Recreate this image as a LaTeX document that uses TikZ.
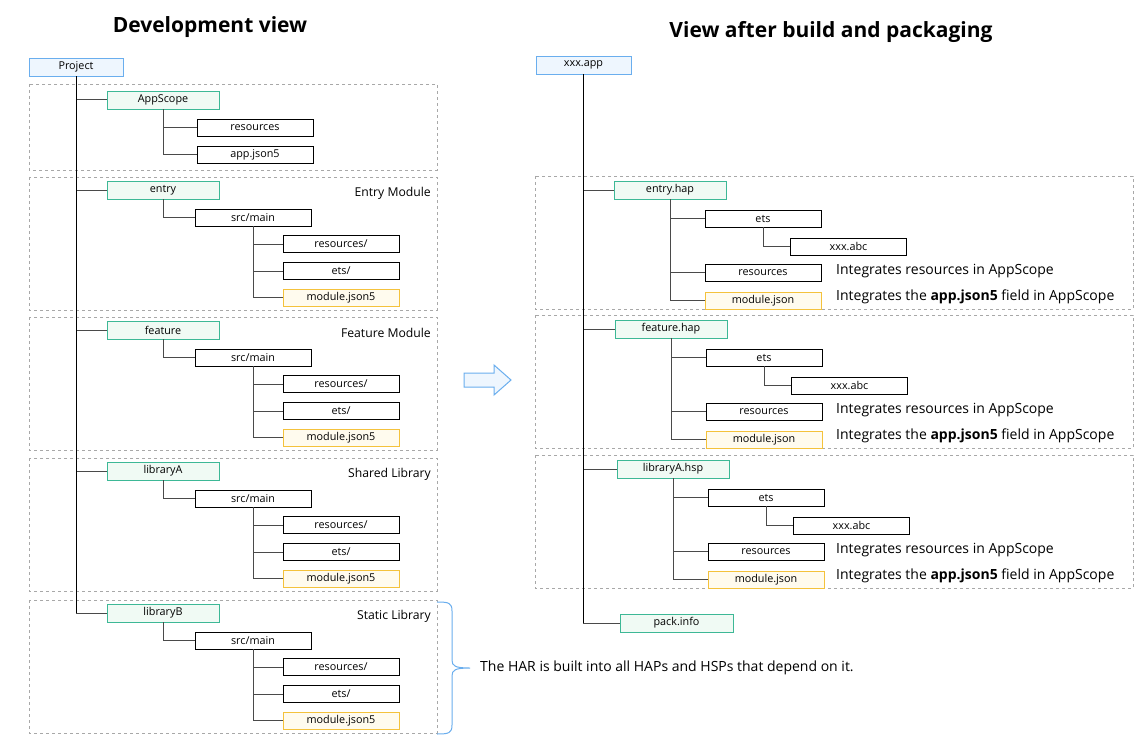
\documentclass[tikz,border=0pt]{standalone}
\usepackage{fontspec}
\setmainfont{Open Sans}
\definecolor{grnB}{HTML}{3DB896}
\definecolor{grnF}{HTML}{F0FAF4}
\definecolor{bluB}{HTML}{6AAEEE}
\definecolor{bluF}{HTML}{EEF6FE}
\definecolor{ylwB}{HTML}{F4C23C}
\definecolor{ylwF}{HTML}{FFFBEE}
\definecolor{grpC}{HTML}{A8A8A8}
\definecolor{lnC}{HTML}{4A4A4A}
\tikzset{
  bx/.style={draw, line width=0.9pt, inner sep=0pt, minimum height=17, font=\fontsize{10.8}{12}\selectfont},
  wht/.style={bx, draw=black, fill=white, minimum width=116},
  grn/.style={bx, draw=grnB, fill=grnF, minimum width=112, minimum height=18},
  ylw/.style={bx, draw=ylwB, fill=ylwF, minimum width=116},
  blu/.style={bx, draw=bluB, fill=bluF, minimum height=18},
  grp/.style={draw=grpC, dashed, line width=0.7pt},
  br/.style={draw=lnC, line width=1pt},
  mainln/.style={draw=black, line width=1pt},
  note/.style={anchor=west, inner sep=0pt, font=\fontsize{14}{16}\selectfont},
  lbl/.style={anchor=east, inner sep=0pt, font=\fontsize{12.2}{14}\selectfont},
  ttl/.style={font=\fontsize{21}{24}\selectfont\bfseries, inner sep=0pt}
}
\begin{document}
\begin{tikzpicture}[x=1pt,y=-1pt]
\useasboundingbox (0,0) rectangle (1142,746);
\fill[white] (0,0) rectangle (1142,746);

% titles
\node[ttl] (t1) at (210,27) {Development view};
\node[ttl] (t2) at (831,32) {View after build and packaging};

% ---------- left ----------
\draw[grp] (29,84) rectangle (437,170);
\node[blu, minimum width=94] (proj) at (76,67) {Project};
\node[grn] (aps) at (163,100) {AppScope};
\node[wht] (apsres) at (255,128) {resources};
\node[wht] (apsjs) at (255,155) {app.json5};
\draw[br] (aps.south) |- (apsres.west);
\draw[br] (aps.south) |- (apsjs.west);
\draw[br] (proj.south) |- (aps.west);

\foreach \nm/\lab/\dy in {entry/Entry Module/0, feature/Feature Module/140, libraryA/Shared Library/281, libraryB/Static Library/423}{
  \draw[grp] (29,177+\dy) rectangle (437,310+\dy);
  \node[lbl] (L\nm) at (431,193+\dy) {\lab};
  \node[grn] (M\nm) at (163,190+\dy) {\nm};
  \node[wht] (S\nm) at (253,217.5+\dy) {src/main};
  \node[wht] (R\nm) at (341,244+\dy) {resources/};
  \node[wht] (E\nm) at (341,271+\dy) {ets/};
  \node[ylw] (J\nm) at (341,297.5+\dy) {module.json5};
  \draw[br] (M\nm.south) |- (S\nm.west);
  \draw[br] (S\nm.south) |- (R\nm.west);
  \draw[br] (S\nm.south) |- (E\nm.west);
  \draw[br] (S\nm.south) |- (J\nm.west);
  \draw[br] (proj.south) |- (M\nm.west);
}
\draw[mainln] (proj.south) -- (proj.south |- MlibraryB.west);

% brace and note
\node[note] (har) at (480,668) {The HAR is built into all HAPs and HSPs that depend on it.};
\coordinate (bt) at (437,602);
\coordinate (bb) at (437,734);
\coordinate (btip) at (470,668);
\draw[draw=bluB, line width=1pt]
  (bt) .. controls (449,602) and (452,603) .. (452,611) -- (452,660)
  .. controls (452,666) and (455,668) .. (btip)
  .. controls (455,668) and (452,670) .. (452,676) -- (452,725)
  .. controls (452,733) and (449,734) .. (bb);

% arrow
\draw[draw=bluB, fill=bluF, line width=1pt, line join=miter]
  (464,373) -- (494,373) -- (494,365) -- (511,380) -- (494,395) -- (494,387) -- (464,387) -- cycle;

% ---------- right ----------
\node[blu, minimum width=95] (app) at (583.5,65) {xxx.app};
\node[grn, minimum width=113] (pack) at (676.5,623) {pack.info};

\foreach \id/\nm/\dx/\dy in {ent/entry.hap/0/0, fea/feature.hap/1/139, lib/libraryA.hsp/3/279}{
  \draw[grp] (535,176+\dy) rectangle (1133,309+\dy);
  \node[grn] (H\id) at (670+\dx,190+\dy) {\nm};
  \node[wht] (T\id) at (763+\dx,218.5+\dy) {ets};
  \node[wht] (A\id) at (848.5+\dx,246.5+\dy) {xxx.abc};
  \node[wht] (Q\id) at (763+\dx,272.5+\dy) {resources};
  \node[ylw] (Y\id) at (763+\dx,300.5+\dy) {module.json};
  \node[note] (Na\id) at (836,271+\dy) {Integrates resources in AppScope};
  \node[note] (Nb\id) at (836,297+\dy) {Integrates the \textbf{app.json5} field in AppScope};
  \draw[br] (H\id.south) |- (T\id.west);
  \draw[br] (T\id.south) |- (A\id.west);
  \draw[br] (H\id.south) |- (Q\id.west);
  \draw[br] (H\id.south) |- (Y\id.west);
  \draw[br] (app.south) |- (H\id.west);
}
\draw[br] (app.south) |- (pack.west);
\draw[mainln] (app.south) -- (app.south |- pack.west);
\end{tikzpicture}
\end{document}
